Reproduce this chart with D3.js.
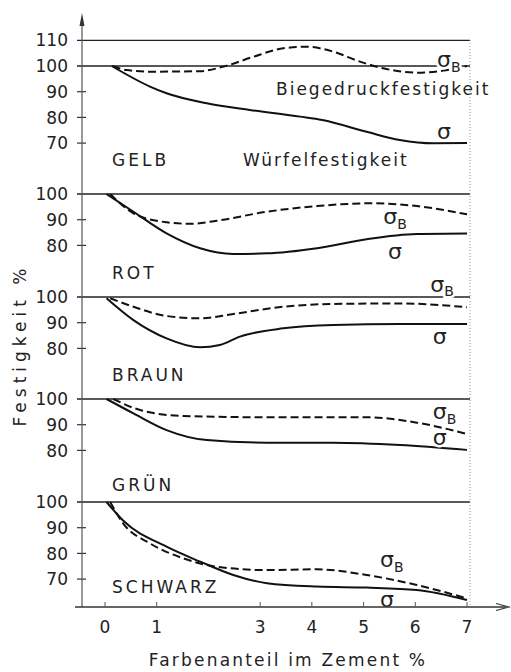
<!DOCTYPE html>
<meta charset="utf-8">
<script src="https://d3js.org/d3.v7.min.js"></script>
<style>
  body { margin: 0; background: #fff; }
  text { font-family: "DejaVu Sans", sans-serif; fill: #222; }
</style>
<div id="chart"></div>
<script>
// data: [Farbenanteil %, Festigkeit %]
const xTicks = [0, 1, 3, 4, 5, 6, 7];
const panelNames = ["GELB", "ROT", "BRAUN", "GRÜN", "SCHWARZ"];
const panelTicks = [
  [70, 80, 90, 100, 110],
  [80, 90, 100],
  [80, 90, 100],
  [80, 90, 100],
  [70, 80, 90, 100]
];

const gelbSigma  = [[0.13,100],[0.87,92],[1.19,89.4],[1.97,85.5],[2.8,82.9],[3.77,80.3],[4.2,79],[5.06,74.4],[5.7,71.2],[6.35,69.9],[7,70]];
const gelbSigmaB = [[0.15,100],[0.42,98.4],[0.87,97.8],[1.84,98],[2.35,100.1],[2.87,103.6],[3.45,106.9],[3.9,107.5],[4.41,105.6],[4.93,101.7],[5.38,99.1],[6.03,97.4],[6.54,98.2],[7,100]];

const rotSigma  = [[0.03,100],[0.55,93.1],[1.19,84.7],[1.84,78.9],[2.48,76.7],[3.13,76.9],[4.1,78.9],[5.06,82.4],[6.03,84.4],[7,84.6]];
const rotSigmaB = [[0.1,100],[0.55,92.5],[1.19,89],[1.64,88.4],[2.16,89.6],[3.13,93.1],[4.1,95.3],[5.19,96.4],[6.03,95.3],[7,92.1]];

const braunSigma  = [[0.03,99.5],[0.55,91],[1.19,83.9],[1.84,80.4],[2.22,81.3],[2.61,84.6],[3.45,87.8],[4.42,89.1],[5.71,89.5],[7,89.5]];
const braunSigmaB = [[0.1,99.5],[0.55,96.2],[1.19,92.6],[1.84,91.7],[2.48,93.4],[3.45,96.2],[4.41,97.3],[5.71,97.5],[7,96]];

const gruenSigma  = [[0.03,100],[0.55,94.4],[1.19,87.9],[1.97,84],[3.13,83],[4.41,83],[5.71,82.1],[7,80.2]];
const gruenSigmaB = [[0.16,100],[0.68,95.7],[1.51,93.4],[3.13,92.9],[5.06,92.9],[6.03,90.8],[7,86.4]];

const schwarzSigma  = [[0.03,100],[0.35,92.8],[1.19,82.6],[1.84,76.8],[2.48,71.6],[3.13,68.4],[4.1,67.1],[5.06,66.7],[6.03,65.8],[7,61.9]];
const schwarzSigmaB = [[0.1,100],[0.35,91.7],[0.87,83.9],[1.51,78.1],[2.16,74.8],[3.13,73.5],[4.1,73.8],[5.06,71.6],[6.03,67.7],[7,62.5]];

const sigma = [gelbSigma, rotSigma, braunSigma, gruenSigma, schwarzSigma];
const sigmaB = [gelbSigmaB, rotSigmaB, braunSigmaB, gruenSigmaB, schwarzSigmaB];

// layout
const W = 511, H = 672;
const axisX = 82, axisY = 607, rightX = 470;
const top100 = [66, 194, 297, 399, 502];   // pixel row of the 100 line per panel
const px10 = 25.7;                          // pixels per 10 %
const nameDy = [94, 79, 78, 86, 85];
// label spots in data units [x, value]
const sbPos = [[6.42,102.3],[5.38,91],[6.29,104.7],[6.34,94.9],[5.32,77.4]];
const sPos  = [[6.42,74.3],[5.47,77.4],[6.34,84.4],[6.34,84.8],[5.32,61.9]];

const svg = d3.select("#chart").append("svg")
  .attr("width", W).attr("height", H);

const x = d3.scaleLinear().domain([0, 7]).range([105, 467]);

const line = d3.line().curve(d3.curveMonotoneX);

panelNames.forEach((name, i) => {
  const y = d3.scaleLinear().domain([90, 100]).range([top100[i] + px10, top100[i]]);
  const g = svg.append("g");

  panelTicks[i].forEach(t => {
    if (t >= 100) {
      g.append("line").attr("x1", 77).attr("x2", rightX)
        .attr("y1", y(t)).attr("y2", y(t))
        .attr("stroke", "#222").attr("stroke-width", 1.3);
    } else {
      g.append("line").attr("x1", 77).attr("x2", 86)
        .attr("y1", y(t)).attr("y2", y(t))
        .attr("stroke", "#333").attr("stroke-width", 1.2);
    }
    g.append("text").attr("x", 68).attr("y", y(t))
      .attr("dy", "0.36em").attr("text-anchor", "end")
      .style("font-size", "17px").text(t);
  });

  const ln = line.x(d => x(d[0])).y(d => y(d[1]));
  g.append("path").attr("d", ln(sigma[i]))
    .attr("fill", "none").attr("stroke", "#111").attr("stroke-width", 2);
  g.append("path").attr("d", ln(sigmaB[i]))
    .attr("fill", "none").attr("stroke", "#111").attr("stroke-width", 2)
    .attr("stroke-dasharray", "8,4");

  g.append("text").attr("x", 112).attr("y", top100[i] + nameDy[i])
    .attr("dy", "0.36em").style("font-size", "17px")
    .style("letter-spacing", "3px").text(name);

  const sb = g.append("text").attr("x", x(sbPos[i][0])).attr("y", y(sbPos[i][1]))
    .attr("dy", "0.3em").style("font-size", "22px")
    .attr("stroke", "#fff").attr("stroke-width", 5).attr("paint-order", "stroke");
  sb.append("tspan").text("σ");
  sb.append("tspan").attr("dy", "0.35em").style("font-size", "14px").text("B");

  g.append("text").attr("x", x(sPos[i][0])).attr("y", y(sPos[i][1]))
    .attr("dy", "0.3em").style("font-size", "22px")
    .attr("stroke", "#fff").attr("stroke-width", 5).attr("paint-order", "stroke")
    .text("σ");

  if (i === 0) {
    g.append("text").attr("x", 276).attr("y", 89).attr("dy", "0.36em")
      .style("font-size", "17px").style("letter-spacing", "2px")
      .text("Biegedruckfestigkeit");
    g.append("text").attr("x", 243).attr("y", 160).attr("dy", "0.36em")
      .style("font-size", "17px").style("letter-spacing", "2px")
      .text("Würfelfestigkeit");
  }
});

// right border
svg.append("line").attr("x1", rightX).attr("x2", rightX)
  .attr("y1", 40).attr("y2", axisY)
  .attr("stroke", "#999").attr("stroke-dasharray", "1,2");

// y axis with arrow
svg.append("line").attr("x1", axisX).attr("x2", axisX)
  .attr("y1", axisY).attr("y2", 20)
  .attr("stroke", "#555").attr("stroke-width", 1.2);
svg.append("path").attr("d", `M${axisX - 2.5},26 L${axisX},13 L${axisX + 2.5},26 Z`)
  .attr("fill", "#333");

// x axis with arrow
svg.append("line").attr("x1", 75).attr("x2", 506)
  .attr("y1", axisY).attr("y2", axisY)
  .attr("stroke", "#333").attr("stroke-width", 1.4);
svg.append("path").attr("d", `M496,${axisY - 3.5} L509,${axisY} L496,${axisY + 3.5}`)
  .attr("fill", "none").attr("stroke", "#333").attr("stroke-width", 1.2);

xTicks.forEach(t => {
  svg.append("line").attr("x1", x(t)).attr("x2", x(t))
    .attr("y1", axisY - 5).attr("y2", axisY)
    .attr("stroke", "#555");
  svg.append("text").attr("x", x(t)).attr("y", 627).attr("dy", "0.36em")
    .attr("text-anchor", "middle").style("font-size", "17px").text(t);
});

svg.append("text").attr("x", 288).attr("y", 660).attr("dy", "0.36em")
  .attr("text-anchor", "middle").style("font-size", "17px")
  .style("letter-spacing", "2.2px").text("Farbenanteil im Zement %");

svg.append("text")
  .attr("transform", "translate(20,345) rotate(-90)")
  .attr("dy", "0.36em").attr("text-anchor", "middle")
  .style("font-size", "17px").style("letter-spacing", "5px")
  .text("Festigkeit %");
</script>
